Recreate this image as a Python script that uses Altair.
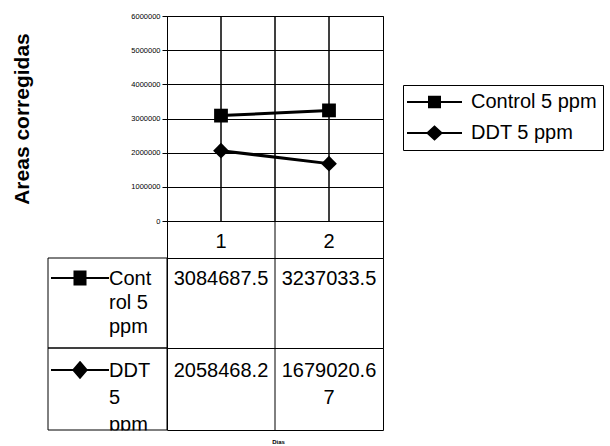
import altair as alt
import pandas as pd

# Series and categories
dias = ["1", "2"]
series = ["Control 5 ppm", "DDT 5 ppm"]
control = [3084687.5, 3237033.5]
ddt = [2058468.2, 1679020.67]
row_labels = ["Cont\nrol 5\nppm", "DDT\n5\nppm"]
y_ticks = [0, 1000000, 2000000, 3000000, 4000000, 5000000, 6000000]
y_title = "Areas corregidas"
x_title = "Dias"

FONT = "Liberation Sans"
W = 216          # plot / table value area width
H_PLOT = 205
H_HEAD = 37
H_ROWS = [90, 82]
LABEL_COL = 119  # width of the row-header column of the data table

# line + marker keys drawn in the data table (unit box -1..1)
TABLE_KEYS = [
    "M-1,0H1M-0.19,-0.22H0.19V0.22H-0.19Z",
    "M-1,0H1M0,-0.27L0.23,0L0,0.27L-0.23,0Z",
]
# legend keys: a thin filled bar for the line, running past the 20px symbol box
LEGEND_KEYS = [
    "M-2.75,-0.09H2.75V0.09H-2.75ZM-0.65,-0.62H0.65V0.62H-0.65Z",
    "M-2.75,-0.09H2.75V0.09H-2.75ZM0,-0.78L0.85,0L0,0.78L-0.85,0Z",
]


def cell_text(v, width=9):
    s = f"{v:.2f}".rstrip("0").rstrip(".")
    return "\n".join(s[i:i + width] for i in range(0, len(s), width))


rows = []
for name, vals in zip(series, [control, ddt]):
    for d, v in zip(dias, vals):
        rows.append({"Dia": d, "Serie": name, "Valor": v, "Texto": cell_text(v)})
df = pd.DataFrame(rows)

x_band = alt.Scale(domain=dias, paddingInner=0, paddingOuter=0)
x_plain = alt.X("Dia:N", scale=x_band, axis=None)
x_edge = alt.X("Dia:N", scale=x_band, axis=None, bandPosition=0)

y_enc = alt.Y(
    "Valor:Q",
    scale=alt.Scale(domain=[0, 6000000], nice=False),
    axis=alt.Axis(
        values=y_ticks, format="d", grid=True, gridColor="black", gridWidth=1,
        labelFont=FONT, labelFontSize=7.5, labelColor="black", labelPadding=2,
        tickColor="black", tickSize=5, domainColor="black",
        title=y_title, titleFont=FONT, titleFontSize=21, titleFontWeight="bold",
        titleColor="black", titleAngle=270, titleX=-139, titleBaseline="alphabetic",
    ),
)

base = alt.Chart(df)

vlines = base.mark_rule(color="black", strokeWidth=1).encode(x=x_plain)
divider = base.transform_filter(alt.datum.Dia == dias[1]).mark_rule(
    color="black", strokeWidth=1).encode(x=x_edge)

lines = base.mark_line(color="black", strokeWidth=3).encode(
    x=x_plain, y=y_enc, detail="Serie:N")

points = base.mark_point(filled=True, opacity=1, color="black").encode(
    x=x_plain, y=y_enc,
    shape=alt.Shape("Serie:N", scale=alt.Scale(domain=series, range=["square", "diamond"]), legend=None),
    size=alt.Size("Serie:N", scale=alt.Scale(domain=series, range=[190, 250]), legend=None),
)

legend_layer = base.transform_filter("false").mark_point(
    filled=True, opacity=1, color="black").encode(
    x=x_plain, y=y_enc,
    shape=alt.Shape(
        "Serie:N",
        scale=alt.Scale(domain=series, range=LEGEND_KEYS),
        legend=alt.Legend(
            title=None, orient="none", legendX=236, legendY=69,
            strokeColor="black", fillColor="white", padding=6,
            symbolSize=400, symbolFillColor="black", symbolOpacity=1,
            symbolOffset=14.5,
            labelFont=FONT, labelFontSize=20, labelColor="black",
            labelOffset=25.5, labelLimit=400, rowPadding=10,
        ),
    ),
)

plot = alt.layer(vlines, divider, lines, points, legend_layer).resolve_scale(
    shape="independent", size="independent"
).properties(width=W, height=H_PLOT)

# header row with the category names
head_df = pd.DataFrame({"Dia": dias})
header = alt.layer(
    alt.Chart(head_df).transform_filter(alt.datum.Dia == dias[1]).mark_rule(
        color="black", strokeWidth=1).encode(x=x_edge),
    alt.Chart(head_df).mark_text(font=FONT, fontSize=20, color="black",
                                 baseline="alphabetic").encode(
        x=x_plain, y=alt.value(27), text="Dia:N"),
).properties(width=W, height=H_HEAD)


def table_row(i, h, line_h, first_base, last):
    d = df[df.Serie == series[i]]
    lab = pd.DataFrame({"Serie": [series[i]], "Etiqueta": [row_labels[i]]})
    if last:
        title_axis = dict(
            labels=False, ticks=False, domain=False, grid=False, title=x_title,
            titleFont=FONT, titleFontSize=6, titleFontWeight="bold",
            titleColor="black", titlePadding=8, titleX=111)
        x_vals = alt.X("Dia:N", scale=x_band, axis=alt.Axis(**title_axis))
        x_div = alt.X("Dia:N", scale=x_band, axis=alt.Axis(**title_axis), bandPosition=0)
    else:
        x_vals, x_div = x_plain, x_edge
    layers = [
        alt.Chart(lab).mark_point(
            shape=TABLE_KEYS[i], size=3364, filled=True, opacity=1,
            color="black", stroke="black", strokeWidth=2).encode(
            x=alt.value(-87), y=alt.value(first_base - 7)),
        alt.Chart(lab).mark_text(
            font=FONT, fontSize=20, color="black", align="left",
            baseline="alphabetic", lineBreak="\n", lineHeight=line_h).encode(
            x=alt.value(-58), y=alt.value(first_base), text="Etiqueta:N"),
    ]
    if last:
        # hide the part of the wrapped header text that runs past the table
        layers.append(alt.Chart(lab).mark_rect(color="white").encode(
            x=alt.value(-LABEL_COL), x2=alt.value(-0.5),
            y=alt.value(h + 0.5), y2=alt.value(h + 10)))
    layers += [
        alt.Chart(lab).mark_rect(fill="transparent", stroke="black", strokeWidth=1).encode(
            x=alt.value(-LABEL_COL), x2=alt.value(0), y=alt.value(0), y2=alt.value(h)),
        alt.Chart(d).transform_filter(alt.datum.Dia == dias[1]).mark_rule(
            color="black", strokeWidth=1).encode(x=x_div),
        alt.Chart(d).mark_text(
            font=FONT, fontSize=20, color="black", align="center",
            baseline="alphabetic", lineBreak="\n", lineHeight=line_h).encode(
            x=x_vals, y=alt.value(first_base), text="Texto:N"),
    ]
    return alt.layer(*layers).properties(width=W, height=h)


row_c = table_row(0, H_ROWS[0], 24, 27, False)
row_d = table_row(1, H_ROWS[1], 27, 29, True)

chart = alt.vconcat(plot, header, row_c, row_d, spacing=0, bounds="flush").configure_view(
    stroke="black", strokeWidth=1
).properties(
    padding={"left": 10, "top": 11, "right": 0, "bottom": 0},
    background="white",
)

chart.save("out.html", embed_options={"renderer": "svg", "actions": False})
